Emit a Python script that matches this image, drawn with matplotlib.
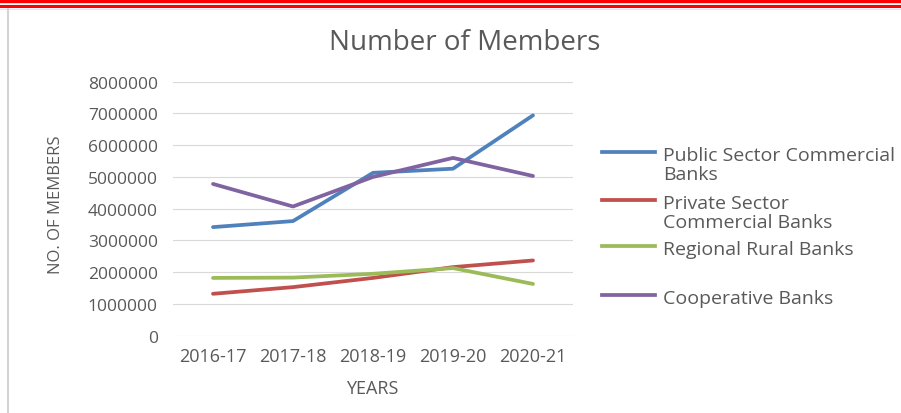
#!/usr/bin/env python3
# -*- coding: utf-8 -*-
"""
Gráfico de linhas: número de membros por tipo de banco (2016-17 a 2020-21).
"""
import matplotlib
matplotlib.use("Agg")
import matplotlib.pyplot as plt
from matplotlib.lines import Line2D

# Dados
anos = ["2016-17", "2017-18", "2018-19", "2019-20", "2020-21"]
publicos = [3420000, 3610000, 5130000, 5260000, 6940000]
privados = [1320000, 1530000, 1820000, 2160000, 2370000]
rurais = [1820000, 1830000, 1950000, 2130000, 1630000]
cooperativos = [4780000, 4070000, 5000000, 5600000, 5030000]

series = [
    ("Public Sector Commercial\nBanks", publicos, "#4F81BD"),
    ("Private Sector\nCommercial Banks", privados, "#C0504D"),
    ("Regional Rural Banks", rurais, "#9BBB59"),
    ("Cooperative Banks", cooperativos, "#8064A2"),
]
y_ticks = list(range(0, 8000001, 1000000))

W, H = 901, 414
CINZA = "#595959"
FONTE = ["Open Sans", "DejaVu Sans"]
plt.rcParams["font.family"] = FONTE


def fx(px):
    return px / W


def fy(py):
    return (H - py) / H


fig = plt.figure(figsize=(W / 100, H / 100), dpi=100)

# faixas vermelhas do cabeçalho e moldura cinza
fig.add_artist(Line2D([0, 1], [fy(1.6), fy(1.6)], color="#ff0000", lw=2.4))
fig.add_artist(Line2D([0, 1], [fy(7.0), fy(7.0)], color="#ff0000", lw=2.2))
fig.add_artist(Line2D([0, 1], [fy(9.8), fy(9.8)], color="#e6e6e6", lw=0.8))
fig.add_artist(Line2D([fx(7.5), fx(7.5)], [fy(10), 0], color="#d4d4d4", lw=1.5))

ax = fig.add_axes([fx(173), fy(336.7), fx(400), (336.7 - 82.7) / H])
x = list(range(len(anos)))
for nome, valores, cor in series:
    ax.plot(x, valores, color=cor, lw=2.7, solid_capstyle="round", label=nome)

ax.set_xlim(-0.5, len(anos) - 0.5)
ax.set_ylim(0, 8000000)
ax.set_xticks(x)
ax.set_xticklabels(anos, fontsize=13, color=CINZA)
ax.set_yticks(y_ticks)
ax.set_yticklabels([str(v) for v in y_ticks], fontsize=12.5, color=CINZA)
ax.tick_params(axis="both", length=0)
ax.tick_params(axis="y", pad=11)
ax.tick_params(axis="x", pad=8)
ax.grid(axis="y", color="#d9d9d9", lw=0.8)
ax.set_axisbelow(True)
for s in ax.spines.values():
    s.set_visible(False)

fig.text(fx(465), fy(43), "Number of Members", fontsize=20, color=CINZA,
         ha="center", va="center")
fig.text(fx(56), fy(205), "NO. OF MEMBERS", fontsize=12, color=CINZA,
         ha="center", va="center", rotation=90)
fig.text(fx(372), fy(389), "YEARS", fontsize=13, color=CINZA,
         ha="center", va="center")

# legenda desenhada à mão (linha alinhada à primeira linha do texto)
legenda_y = [153, 201, 247, 296]
for (nome, _, cor), ly in zip(series, legenda_y):
    fig.add_artist(Line2D([fx(602), fx(655)], [fy(ly), fy(ly)], color=cor, lw=2.7))
    for i, linha in enumerate(nome.split("\n")):
        fig.text(fx(663), fy(ly + 8 + 19.5 * i), linha, fontsize=14,
                 color=CINZA, ha="left", va="baseline")

fig.savefig("out.png", dpi=100, facecolor="white")
